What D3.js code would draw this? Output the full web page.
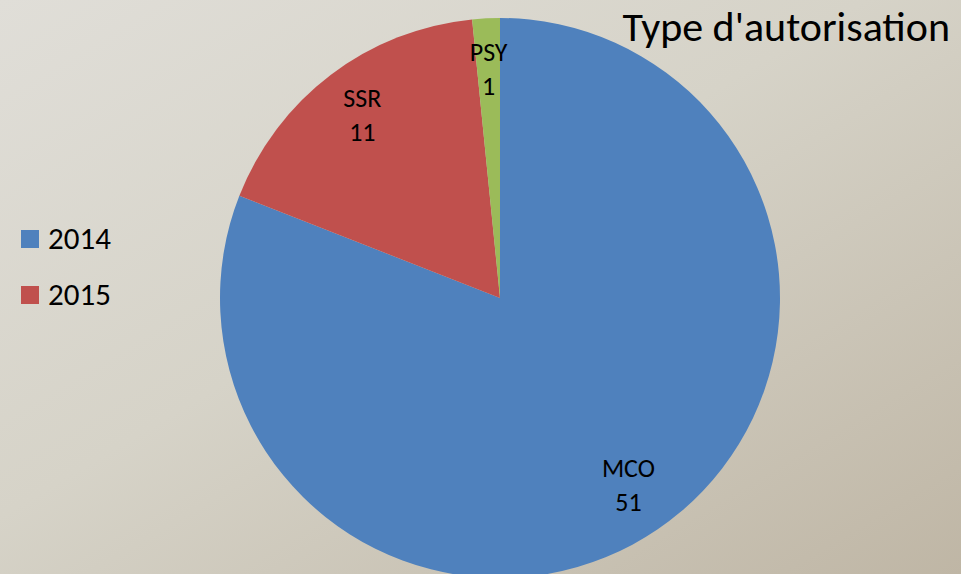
<!DOCTYPE html>
<html>
<head>
<meta charset="utf-8">
<script src="https://cdn.jsdelivr.net/npm/d3@7"></script>
<style>
  html, body { margin: 0; padding: 0; }
  svg { display: block; font-family: Carlito, Lato, "Open Sans", sans-serif; }
</style>
</head>
<body>
<svg id="chart" width="961" height="574"></svg>
<script>
const categories = ["MCO", "SSR", "PSY"]
const values = [51, 11, 1]
const colors = ["#4f81bd", "#c0504d", "#9bbb59"]
const legendLabels = ["2014", "2015"]
const title = "Type d'autorisation"

const width = 961, height = 574
const cx = 500, cy = 298, radius = 280

const svg = d3.select("#chart")

// background gradient (light grey top-left to tan bottom-right)
const defs = svg.append("defs")
const grad = defs.append("linearGradient")
  .attr("id", "bg")
  .attr("x1", "0%").attr("y1", "0%")
  .attr("x2", "100%").attr("y2", "100%")
grad.append("stop").attr("offset", "0%").attr("stop-color", "#e0ded8")
grad.append("stop").attr("offset", "45%").attr("stop-color", "#d6d3c8")
grad.append("stop").attr("offset", "100%").attr("stop-color", "#bfb6a5")

svg.append("rect")
  .attr("width", width)
  .attr("height", height)
  .attr("fill", "url(#bg)")

const data = categories.map((c, i) => ({ name: c, value: values[i], color: colors[i] }))

const pie = d3.pie().value(d => d.value).sort(null)
const arc = d3.arc().innerRadius(0).outerRadius(radius)
const labelArc = d3.arc().innerRadius(228).outerRadius(228)

const g = svg.append("g").attr("transform", `translate(${cx},${cy})`)
const arcs = pie(data)

g.selectAll("path")
  .data(arcs)
  .enter()
  .append("path")
  .attr("d", arc)
  .attr("fill", d => d.data.color)

const labels = g.selectAll(".slice-label")
  .data(arcs)
  .enter()
  .append("text")
  .attr("class", "slice-label")
  .attr("transform", d => `translate(${labelArc.centroid(d)})`)
  .attr("text-anchor", "middle")
  .style("font-size", "26px")
  .attr("fill", "#000")

labels.append("tspan").attr("x", 0).attr("y", -9).text(d => d.data.name)
labels.append("tspan").attr("x", 0).attr("y", 25).text(d => d.data.value)

// title
svg.append("text")
  .attr("x", 950)
  .attr("y", 41)
  .attr("text-anchor", "end")
  .style("font-size", "42px")
  .attr("fill", "#000")
  .text(title)

// legend
const legend = svg.append("g")
  .selectAll("g")
  .data(legendLabels)
  .enter()
  .append("g")
  .attr("transform", (d, i) => `translate(21,${230 + i * 56})`)

legend.append("rect")
  .attr("width", 18)
  .attr("height", 18)
  .attr("fill", (d, i) => colors[i])

legend.append("text")
  .attr("x", 27)
  .attr("y", 19)
  .style("font-size", "31px")
  .attr("fill", "#000")
  .text(d => d)
</script>
</body>
</html>
